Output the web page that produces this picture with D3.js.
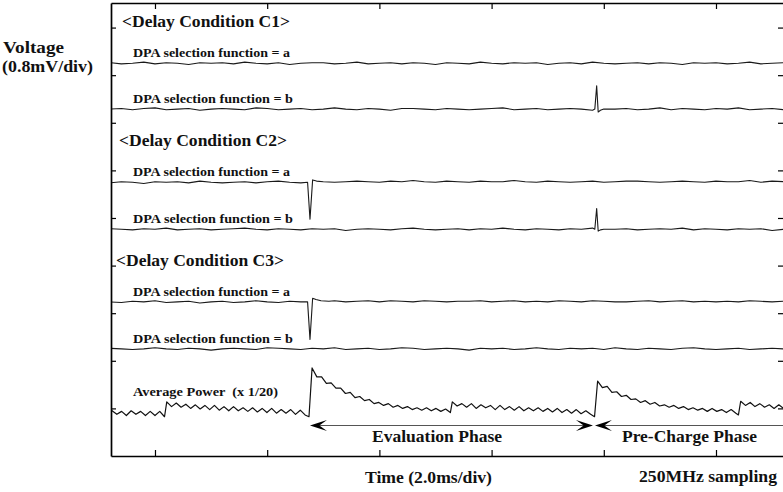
<!DOCTYPE html>
<html><head><meta charset="utf-8">
<script src="https://cdn.jsdelivr.net/npm/d3@7"></script>
<style>
html,body{margin:0;padding:0;background:#fff;}
svg{display:block;}
</style></head><body>
<svg id="chart" width="783" height="492"></svg>
<script>
// ---------------- data ----------------
const timeTicks = [2, 4, 6, 8, 10, 12];                       // ms, 2.0 ms/div
const voltTicks = [0.8, 1.6, 2.4, 3.2, 4.0, 4.8, 5.6, 6.4, 7.2]; // mV, 0.8 mV/div
const conditions = ["<Delay Condition C1>", "<Delay Condition C2>", "<Delay Condition C3>"];
const traceLabels = ["DPA selection function = a", "DPA selection function = b"];
const traceBaselines = [6.60, 5.83, 4.60, 3.81, 2.59, 1.80];  // C1a C1b C2a C2b C3a C3b (mV)

const noiseStart = 1.2, noiseStep = 0.2;                      // ms
const noiseC1a = [0.01,-0.01,0.00,0.02,-0.01,0.01,0.00,-0.02,0.01,0.00,0.01,-0.01,0.02,0.00,-0.01,0.01,-0.02,0.00,0.01,0.01,-0.01,0.00,0.02,-0.01,0.00,0.01,-0.01,0.01,0.00,-0.02,0.01,0.00,-0.01,0.02,0.00,-0.01,0.01,0.00,0.01,-0.02,0.00,0.01,-0.01,0.02,0.00,-0.01,0.00,0.01,-0.01,0.01,0.00,-0.02,0.01,0.00,0.01,-0.01,0.00,0.02,-0.01,0.00,0.01];
const noiseC1b = [0.00,0.01,-0.01,0.01,0.02,-0.01,0.00,0.01,-0.02,0.00,0.01,0.00,-0.01,0.02,0.01,-0.01,0.00,0.01,-0.01,0.00,0.02,0.00,-0.01,0.01,0.00,-0.02,0.01,0.01,0.00,-0.01,0.01,0.00,-0.01,0.00,0.01,0.02,-0.01,0.00,0.01,-0.01,0.00,0.01,0.00,-0.02,0.01,0.00,0.01,-0.01,0.00,0.02,-0.01,0.01,0.00,-0.01,0.01,0.00,0.02,-0.01,0.00,0.01,-0.01];
const noiseC2a = [-0.01,0.01,0.00,-0.02,0.01,0.00,0.01,-0.01,0.02,0.00,-0.01,0.00,0.01,-0.01,0.01,0.02,0.00,-0.01,0.01,0.02,0.00,0.01,0.02,0.01,0.00,0.02,0.01,0.03,0.01,0.00,0.02,0.01,0.00,0.02,0.01,0.01,0.03,0.01,0.00,0.02,0.01,0.00,0.01,0.02,0.00,0.01,0.02,0.02,0.01,0.00,0.01,0.02,0.01,0.00,0.02,0.01,0.01,0.03,0.00,0.02,0.01];
const noiseC2b = [0.01,0.00,-0.01,0.01,0.00,0.02,-0.01,0.00,0.01,-0.01,0.00,0.01,0.02,0.00,-0.01,0.01,0.00,-0.01,0.01,0.00,0.01,-0.02,0.00,0.01,0.00,-0.01,0.01,0.02,0.00,-0.01,0.00,0.01,-0.01,0.01,0.00,0.02,0.00,-0.01,0.01,0.00,-0.01,0.01,0.00,0.02,-0.01,0.00,0.01,-0.01,0.00,0.01,0.00,0.02,-0.01,0.01,0.00,-0.01,0.01,0.00,0.01,-0.02,0.00];
const noiseC3a = [0.00,-0.01,0.01,0.00,0.02,-0.01,0.00,0.01,-0.02,0.00,0.01,-0.01,0.00,0.02,0.00,-0.01,0.01,0.00,0.02,0.01,0.02,0.00,0.01,0.02,0.00,0.02,0.01,0.00,0.02,0.01,0.00,0.01,0.01,0.02,0.00,0.01,0.02,0.00,0.01,0.00,0.02,0.01,0.00,0.02,0.01,0.00,0.00,0.01,0.02,0.00,0.01,0.02,0.00,0.01,0.00,0.01,0.00,0.02,0.01,0.00,0.01];
const noiseC3b = [0.01,0.00,-0.01,0.00,0.02,0.00,-0.01,0.01,0.00,-0.02,0.00,0.01,0.00,-0.01,0.02,0.01,0.00,-0.01,0.01,0.00,0.02,-0.01,0.00,0.01,-0.01,0.00,0.02,0.01,-0.01,0.00,0.01,0.00,-0.02,0.01,0.00,0.01,-0.01,0.00,0.02,0.00,-0.01,0.01,0.00,0.01,-0.01,0.02,0.00,-0.01,0.01,0.00,-0.01,0.01,0.02,0.00,-0.01,0.00,0.01,-0.01,0.00,0.01,0.00];

// spikes: [time ms, offset mV]
const spikeC1a = [];
const spikeC1b = [[9.84,0],[9.873,0.39],[9.90,-0.05],[9.94,-0.02],[10.0,0]];
const spikeC2a = [[4.72,0],[4.763,-0.62],[4.81,0.04],[4.88,0.02],[5.0,0.01]];
const spikeC2b = [[9.84,0],[9.873,0.35],[9.90,-0.03],[9.94,-0.01],[10.0,0]];
const spikeC3a = [[4.72,0],[4.763,-0.63],[4.81,0.06],[4.87,0.04],[4.96,0.02],[5.1,0.01]];
const spikeC3b = [];

// average power (x 1/20), shown in the same mV scale
const powerLabel = "Average Power  (x 1/20)";
const powerStep = 0.085;
const powerStarts = [1.15, 2.21, 4.80, 7.30, 9.89, 12.44];
const powerA = [0.74,0.76,0.70,0.75,0.68,0.76,0.70,0.75,0.68,0.75,0.68,0.75,0.66];
const powerB = [0.91,0.83,0.89,0.82,0.87,0.80,0.86,0.79,0.85,0.78,0.85,0.77,0.83,0.76,0.83,0.76,0.81,0.75,0.81,0.74,0.80,0.73,0.80,0.72,0.78,0.72,0.78,0.70,0.77,0.69];
const powerC = [1.48,1.33,1.33,1.22,1.23,1.14,1.14,1.05,1.07,0.98,1.00,0.93,0.95,0.88,0.90,0.85,0.88,0.82,0.85,0.80,0.83,0.78,0.81,0.77,0.81,0.76,0.80,0.75,0.79,0.73];
const powerD = [0.91,0.84,0.88,0.82,0.88,0.80,0.86,0.81,0.85,0.78,0.85,0.78,0.83,0.77,0.83,0.76,0.81,0.76,0.81,0.75,0.80,0.74,0.80,0.73,0.78,0.72,0.78,0.71,0.76,0.70];
const powerE = [1.26,1.15,1.17,1.07,1.08,1.00,1.02,0.95,0.96,0.90,0.93,0.87,0.90,0.84,0.86,0.82,0.85,0.80,0.83,0.78,0.81,0.77,0.80,0.75,0.80,0.75,0.78,0.73,0.78,0.72];
const powerF = [0.92,0.85,0.90,0.83,0.88,0.82,0.86,0.80,0.86,0.80];
const powerEdges = [[4.745,0.66],[9.835,0.66],[12.40,0.69]];

const phaseNames = ["Evaluation Phase", "Pre-Charge Phase"];
const phaseStart = [4.763, 9.843];
const phaseEnd = [9.807, 13.4];

// ---------------- drawing ----------------
const FONT = "'Liberation Serif', 'Tinos', 'DejaVu Serif', 'Times New Roman', Times, serif";
const svg = d3.select("#chart");
const L = 111, T = 3, R = 785, B = 456;
const x = d3.scaleLinear().domain([1.216, 13.23]).range([L, R]);
const y = d3.scaleLinear().domain([0, 7.613]).range([B, T]);

svg.append("defs").append("clipPath").attr("id","plotclip")
  .append("rect").attr("x", L).attr("y", T).attr("width", R - L).attr("height", B - T);

const line = d3.line().x(d => x(d[0])).y(d => y(d[1]));
const plot = svg.append("g").attr("clip-path","url(#plotclip)");

const noises = [noiseC1a, noiseC1b, noiseC2a, noiseC2b, noiseC3a, noiseC3b];
const spikes = [spikeC1a, spikeC1b, spikeC2a, spikeC2b, spikeC3a, spikeC3b];
noises.forEach((n, i) => {
  const base = traceBaselines[i];
  const sp = spikes[i];
  const lo = sp.length ? sp[0][0] : Infinity, hi = sp.length ? sp[sp.length-1][0] : -Infinity;
  let pts = n.map((v, k) => [noiseStart + k * noiseStep, base + v]).filter(p => p[0] < lo || p[0] > hi);
  pts = pts.concat(sp.map(p => [p[0], base + p[1]])).sort((a, b) => a[0] - b[0]);
  plot.append("path").attr("d", line(pts)).attr("fill","none")
    .attr("stroke","#1a1a1a").attr("stroke-width",1.1).attr("stroke-linejoin","round");
});

const segs = [powerA, powerB, powerC, powerD, powerE, powerF];
let ppts = [];
segs.forEach((s, i) => s.forEach((v, k) => ppts.push([powerStarts[i] + k * powerStep, v])));
ppts = ppts.concat(powerEdges).sort((a, b) => a[0] - b[0]);
plot.append("path").attr("d", line(ppts)).attr("fill","none")
  .attr("stroke","#111").attr("stroke-width",1.2).attr("stroke-linejoin","round");

// axes / frame
function styleAxis(g){
  g.selectAll(".domain").attr("stroke","#000").attr("stroke-width",1.7);
  g.selectAll(".tick line").attr("stroke","#000").attr("stroke-width",1.2);
  g.selectAll(".tick text").remove();
}
svg.append("g").attr("transform",`translate(0,${T})`)
  .call(d3.axisTop(x).tickValues(timeTicks).tickSize(-6).tickSizeOuter(0).tickFormat("")).call(styleAxis);
svg.append("g").attr("transform",`translate(0,${B})`)
  .call(d3.axisBottom(x).tickValues(timeTicks).tickSize(-6).tickSizeOuter(0).tickFormat("")).call(styleAxis);
svg.append("g").attr("transform",`translate(${L},0)`)
  .call(d3.axisLeft(y).tickValues(voltTicks).tickSize(-5).tickSizeOuter(0).tickFormat("")).call(styleAxis);
svg.append("g").attr("transform",`translate(${R},0)`)
  .call(d3.axisRight(y).tickValues(voltTicks).tickSize(-7).tickSizeOuter(0).tickFormat("")).call(styleAxis);

// text helper
function label(txt, px, py, size, len){
  const t = svg.append("text").attr("x", px).attr("y", py)
    .attr("font-family", FONT).attr("font-weight", "bold").attr("fill", "#111")
    .attr("font-size", size).style("white-space", "pre").attr("xml:space", "preserve").text(txt);
  if (len) t.attr("textLength", len).attr("lengthAdjust","spacingAndGlyphs");
  return t;
}

label("Voltage", 3, 53, 16, 61);
label("(0.8mV/div)", 2, 72, 16, 91);

const headerX = [122, 119, 116];
conditions.forEach((c, i) => {
  const yb = y(traceBaselines[2*i]) - 36;
  label(c, headerX[i], yb, 16, 168);
});
traceBaselines.forEach((b, i) => {
  label(traceLabels[i % 2], 133, y(b) - 6, 12, i % 2 ? 160 : 157);
});
label(powerLabel, 133, 396, 12, 145);

// phase arrows
const arrowY = 425.5;
function arrowHead(tipX, dir){
  const Lh = 17, Hh = 11;
  const p = d3.path();
  p.moveTo(tipX, arrowY);
  p.lineTo(tipX + dir*Lh, arrowY - Hh/2);
  p.lineTo(tipX + dir*Lh*0.55, arrowY);
  p.lineTo(tipX + dir*Lh, arrowY + Hh/2);
  p.closePath();
  svg.append("path").attr("d", p.toString()).attr("fill","#000");
}
phaseNames.forEach((n, i) => {
  const x0 = x(phaseStart[i]), x1 = Math.min(x(phaseEnd[i]), 790);
  svg.append("line").attr("x1", x0 + 8).attr("x2", x1 - (i === 0 ? 8 : 0))
    .attr("y1", arrowY).attr("y2", arrowY).attr("stroke","#555").attr("stroke-width",1.1);
  arrowHead(x0, 1);
  if (i === 0) arrowHead(x1, -1);
});
label(phaseNames[0], 372, 442, 16, 130);
label(phaseNames[1], 622, 442, 16, 135);

label("Time (2.0ms/div)", 365, 483, 16, 127);
label("250MHz sampling", 639, 482, 16, 138);
</script>
</body></html>
